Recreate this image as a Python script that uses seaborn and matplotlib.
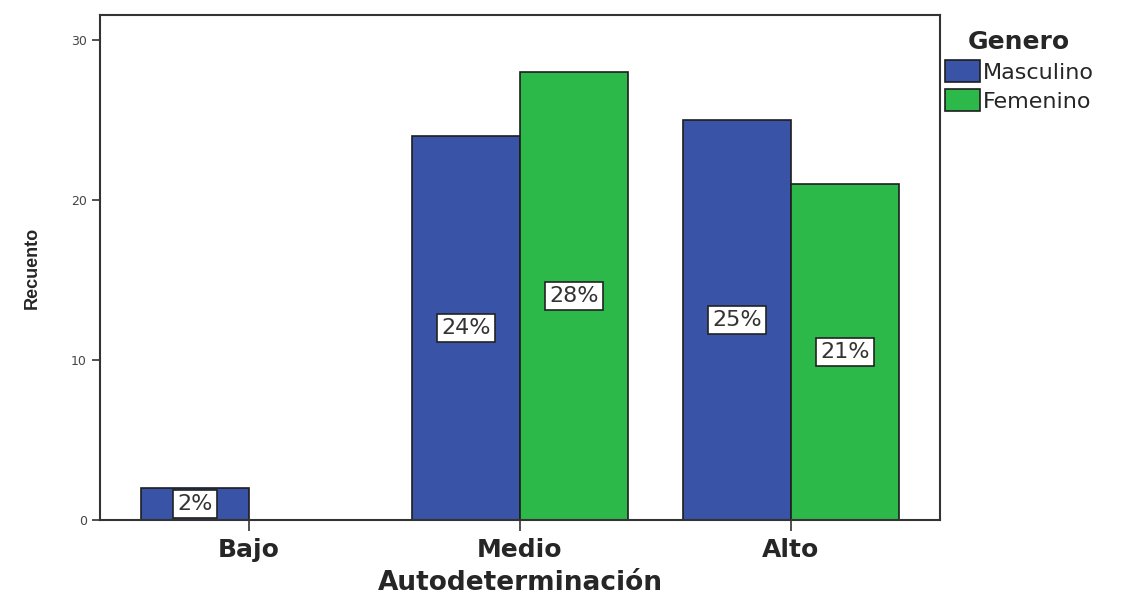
import pandas as pd
import matplotlib.pyplot as plt
import seaborn as sns

categorias = ['Bajo', 'Medio', 'Alto']
masculino = [2, 24, 25]
femenino = [0, 28, 21]
etiquetas_masc = ['2%', '24%', '25%']
etiquetas_fem = ['', '28%', '21%']

df = pd.DataFrame({
    'Autodeterminación': categorias * 2,
    'Recuento': masculino + femenino,
    'Genero': ['Masculino'] * 3 + ['Femenino'] * 3,
})

sns.set_theme(style="white")
plt.rcParams['font.family'] = ['DejaVu Sans']

fig = plt.figure(figsize=(11.26, 5.96), dpi=100)
ax = fig.add_axes([0.0888, 0.1275, 0.7460, 0.8475])

sns.barplot(data=df, x='Autodeterminación', y='Recuento', hue='Genero',
            order=categorias, hue_order=['Masculino', 'Femenino'],
            palette=['#3953a6', '#2db84a'], edgecolor='#1e1e1e', linewidth=1.2,
            width=0.8, saturation=1, ax=ax)

# etiquetas de porcentaje en cajas blancas
caja = dict(boxstyle='square,pad=0.18', facecolor='white', edgecolor='#222222', linewidth=1.2)
for cont, etiq in zip(ax.containers, [etiquetas_masc, etiquetas_fem]):
    ax.bar_label(cont, labels=etiq, label_type='center', fontsize=16,
                 color='#333333', bbox=caja)

ax.set_xlim(-0.55, 2.55)
ax.set_ylim(0, 31.56)
ax.set_yticks([0, 10, 20, 30])
ax.tick_params(axis='y', labelsize=9, labelcolor='#444444', left=True, length=6, width=1.2, color='#333333')
ax.tick_params(axis='x', labelsize=18, bottom=True, length=8, width=1.2, color='#333333', pad=5)
for lab in ax.get_xticklabels():
    lab.set_fontweight('bold')
for sp in ax.spines.values():
    sp.set_color('#333333')
    sp.set_linewidth(1.5)

ax.set_xlabel('Autodeterminación', fontsize=19, fontweight='bold', labelpad=6)
ax.set_ylabel('Recuento', fontsize=13, fontweight='bold', labelpad=22,
              family=['Liberation Sans', 'DejaVu Sans'])

ax.legend(title='Genero', loc='upper left', bbox_to_anchor=(0.99, 0.997),
          frameon=False, fontsize=16, title_fontproperties={'weight': 'bold', 'size': 18},
          handlelength=1.6, handleheight=1.1, handletextpad=0.1, labelspacing=0.3,
          borderaxespad=0.2)

plt.savefig('out.png', dpi=100)
